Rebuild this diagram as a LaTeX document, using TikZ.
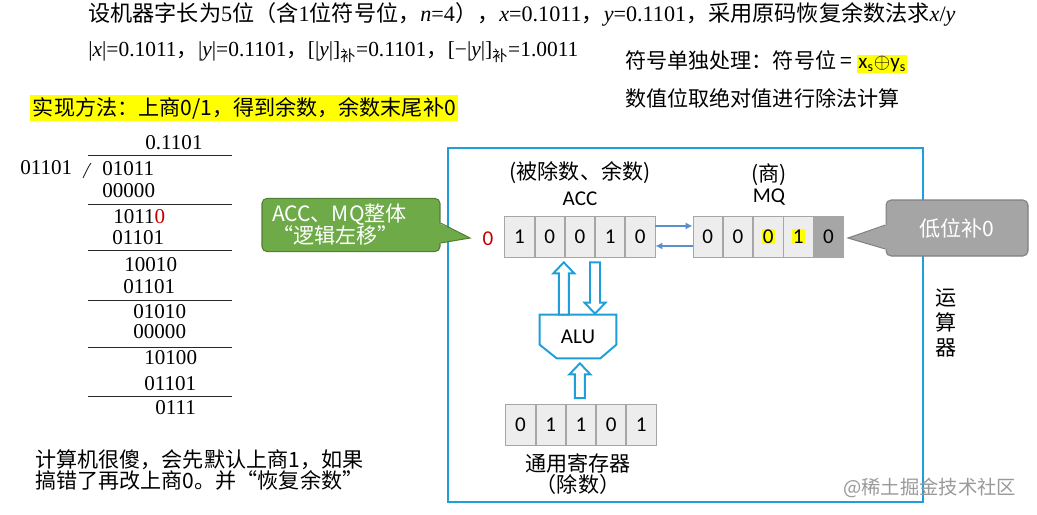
\documentclass[tikz,border=0pt]{standalone}
\usepackage{xcolor}
\usepackage{fontspec}
\setmainfont{Liberation Serif}
\newfontfamily\cjk{Noto Sans CJK SC}
\newfontfamily\calib{Carlito}
\usepackage{tikz}
\usetikzlibrary{calc,positioning,arrows.meta}
\definecolor{BoxBlue}{HTML}{1E9FDA}
\definecolor{LinkBlue}{HTML}{5B8FC9}
\definecolor{CellFill}{HTML}{EDEDED}
\definecolor{CellEdge}{HTML}{A6A6A6}
\definecolor{LowBit}{HTML}{A6A6A6}
\definecolor{ShiftGreen}{HTML}{6EAA47}
\definecolor{ShiftEdge}{HTML}{507E32}
\definecolor{NoteGray}{HTML}{A5A5A5}
\definecolor{NoteEdge}{HTML}{808080}
\definecolor{Hilite}{HTML}{FFFF00}
\definecolor{CarryRed}{HTML}{C00000}
\definecolor{MarkGray}{HTML}{9A9A9A}
\newcommand{\hl}[1]{{\setlength{\fboxsep}{0.6pt}\colorbox{Hilite}{#1}}}
\newcommand{\fatarrow}[2]{%
    \coordinate (hb) at ($(#2)!0.22cm!(#1)$);
    \draw[bus] ($(#1)!0.1cm!90:(#2)$) -- ($(hb)!0.1cm!90:(#2)$) -- ($(hb)!0.21cm!90:(#2)$)
        -- (#2) -- ($(hb)!0.21cm!-90:(#2)$) -- ($(hb)!0.1cm!-90:(#2)$) -- ($(#1)!0.1cm!-90:(#2)$) -- cycle;
}

\begin{document}
\begin{tikzpicture}[x=0.02cm,y=-0.02cm,
        txt/.style={inner sep=0pt, font=\fontsize{12}{14}\selectfont},
        hanzi/.style={inner sep=0pt, font=\cjk\fontsize{12}{14}\selectfont},
        digits/.style={anchor=west, inner sep=0pt, font=\fontsize{12}{14}\selectfont},
        rule/.style={draw=black!85, line width=0.5pt},
        cell/.style={draw=CellEdge, fill=CellFill, minimum width=0.59cm, minimum height=0.82cm,
            inner sep=0pt, font=\calib\fontsize{12}{14}\selectfont},
        bus/.style={draw=BoxBlue, line width=1.1pt, fill=white, line join=miter},
        link/.style={draw=LinkBlue, line width=0.7pt, -{Latex[length=4pt,width=4pt]}},
        shiftnote/.style={fill=ShiftGreen, draw=ShiftEdge, line width=0.6pt, rounded corners=0.1cm,
            text=white, text width=3.16cm, inner xsep=0.2cm, minimum height=1.02cm, align=left,
            font=\cjk\fontsize{12}{12.5}\selectfont},
        lownote/.style={fill=NoteGray, draw=NoteEdge, line width=0.6pt, rounded corners=0.1cm,
            text=white, minimum width=2.84cm, minimum height=1.12cm, font=\cjk\fontsize{12}{14}\selectfont}]
    \useasboundingbox (0,0) rectangle (1037,514);
    \fill[white] (0,0) rectangle (1037,514);

    % problem statement
    \node[txt, anchor=west, font=\fontsize{12.6}{14}\selectfont] (title) at (88,14) {{\cjk 设机器字长为}5{\cjk 位（含}1{\cjk 位符号位，}\textit{n}=4{\cjk ），}\textit{x}=0.1011{\cjk ，}\textit{y}=0.1101{\cjk ，采用原码恢复余数法求}\textit{x}/\textit{y}};
    \node[txt, anchor=west, font=\fontsize{12.2}{14}\selectfont] (absval) at (88,52) {|\textit{x}|=0.1011{\cjk ，}|\textit{y}|=0.1101{\cjk ，}[|\textit{y}|]\textsubscript{\cjk 补}=0.1101{\cjk ，}[−|\textit{y}|]\textsubscript{\cjk 补}=1.0011};
    \node[hanzi, anchor=west] (sign) at (625,62) {符号单独处理：符号位 = \hl{\calib x\textsubscript{s}$\oplus$y\textsubscript{s}}};
    \node[hanzi, anchor=west] (magn) at (625,98) {数值位取绝对值进行除法计算};
    \node[hanzi, anchor=west, fill=Hilite, inner sep=1.5pt] (method) at (30,108) {实现方法：上商0/1，得到余数，余数末尾补0};

    % long division
    \node[digits] (q) at (145,143) {0.1101};
    \node[digits] (dv) at (20,168) {01101};
    \foreach \px/\py/\val [count=\i] in {102/169/01011, 102/191/00000, 113/217/{1011\textcolor{CarryRed}{0}},
        112/238/01101, 124/265/10010, 123/287/01101, 133/312/01010, 133/332/00000,
        144/358/10100, 144/384/01101, 155/408/0111}
        \node[digits] (p\i) at (\px,\py) {\val};
    \draw[rule] (83,178) .. controls (86,172) and (88,167) .. (91,163);
    \foreach \ry in {155,204,250,300,347,396}
        \draw[rule] (88,\ry) -- (232,\ry);

    \node[hanzi, anchor=west, align=left, font=\cjk\fontsize{12}{12.5}\selectfont] (naive) at (35,470) {计算机很傻，会先默认上商1，如果\\搞错了再改上商0。并“恢复余数”};

    % arithmetic unit
    \draw[BoxBlue, line width=1.6pt] (448,148) rectangle (923,502);
    \node[hanzi, align=center, font=\cjk\fontsize{12}{14.2}\selectfont] (unit) at (946,323) {运\\算\\器};

    \node[cell] (acc1) at (519.5,236.5) {1};
    \node[cell, right=0pt of acc1] (acc2) {0};
    \node[cell, right=0pt of acc2] (acc3) {0};
    \node[cell, right=0pt of acc3] (acc4) {1};
    \node[cell, right=0pt of acc4] (acc5) {0};
    \node[hanzi] (accrole) at (580,173) {(被除数、余数)};
    \node[txt, font=\calib\fontsize{12}{14}\selectfont] (accname) at (580,199) {ACC};
    \node[txt, font=\calib\fontsize{12}{14}\selectfont, text=CarryRed] (spill) at (488,239) {0};

    \node[cell] (mq1) at (707.7,236.5) {0};
    \node[cell, right=0pt of mq1] (mq2) {0};
    \node[cell, right=0pt of mq2] (mq3) {\hl{0}};
    \node[cell, right=0pt of mq3] (mq4) {\hl{1}};
    \node[cell, right=0pt of mq4, fill=LowBit] (mq5) {0};
    \node[hanzi] (mqrole) at (769,175) {(商)};
    \node[txt, font=\calib\fontsize{12}{14}\selectfont] (mqname) at (769,197) {MQ};

    \draw[link] ([yshift=6pt]acc5.east) -- ([yshift=6pt]mq1.west);
    \draw[link] ([yshift=-5.4pt]mq1.west) -- ([yshift=-5.4pt]acc5.east);

    \node[minimum width=1.52cm, minimum height=0.86cm, font=\calib\fontsize{12}{14}\selectfont] (alu) at (578,336.5) {ALU};
    \draw[draw=BoxBlue, line width=1.1pt] (alu.north west) -- (alu.north east) -- ++(0,30)
        -- ([xshift=-0.32cm]alu.south east) -- ([xshift=0.34cm]alu.south west)
        -- ($(alu.north west)+(0,30)$) -- cycle;

    \node[cell] (gr1) at (520.5,425) {0};
    \node[cell, right=0pt of gr1] (gr2) {1};
    \node[cell, right=0pt of gr2] (gr3) {1};
    \node[cell, right=0pt of gr3] (gr4) {0};
    \node[cell, right=0pt of gr4] (gr5) {1};
    \node[hanzi] (grname) at (578,463) {通用寄存器};
    \node[hanzi] (grrole) at (578,484) {（除数）};

    % buses
    \coordinate (uptip) at ($(acc3.south west)+(-1,5)$);
    \coordinate (upbase) at (uptip |- alu.north);
    \fatarrow{upbase}{uptip}
    \coordinate (dnbase) at ($(acc4.south west)+(0,5)$);
    \coordinate (dntip) at ($(dnbase |- alu.north)+(0,-1)$);
    \fatarrow{dnbase}{dntip}
    \coordinate (inbase) at ($(gr3.north)+(-1,-6)$);
    \coordinate (intip) at ($(inbase |- alu.south)+(0,5)$);
    \fatarrow{inbase}{intip}

    % callouts
    \node[shiftnote] (shift) at (351,225) {ACC、MQ整体\\“逻辑左移”};
    \coordinate (shifttip) at (470,238);
    \fill[ShiftGreen] ($(shift.east)+(-2,-2)$) -- (shifttip) -- ($(shift.east)+(-2,18)$) -- cycle;
    \draw[ShiftEdge, line width=0.6pt] ($(shift.east)+(0,-2)$) -- (shifttip) -- ($(shift.east)+(0,18)$);

    \node[lownote] (lowfill) at (957,228) {低位补0};
    \coordinate (lowtip) at (848,238);
    \fill[NoteGray] ($(lowfill.west)+(2,-3)$) -- (lowtip) -- ($(lowfill.west)+(2,21)$) -- cycle;
    \draw[NoteEdge, line width=0.6pt] ($(lowfill.west)+(0,-3)$) -- (lowtip) -- ($(lowfill.west)+(0,21)$);

    \node[hanzi, anchor=west, text=MarkGray, font=\cjk\fontsize{11}{13}\selectfont] (mark) at (843,488) {@稀土掘金技术社区};
\end{tikzpicture}
\end{document}
